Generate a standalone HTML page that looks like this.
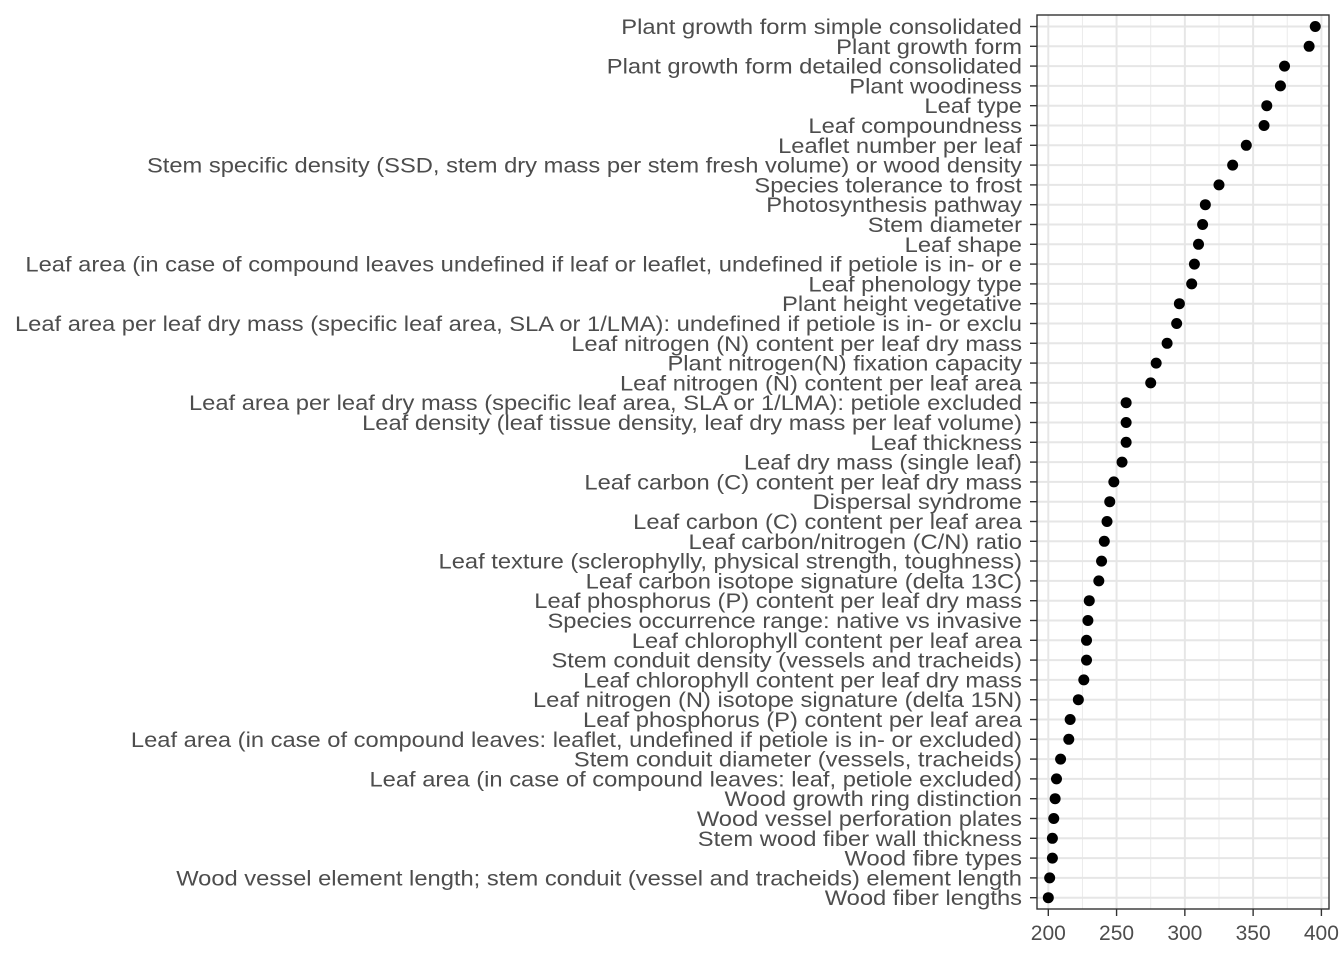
<!DOCTYPE html>
<html><head><meta charset="utf-8"><style>
body{margin:0;background:#fff;}
svg{display:block;font-family:"Liberation Sans",sans-serif;}
</style></head><body>
<svg id="chart" width="1344" height="960"></svg>
<script>
const categories=["Plant growth form simple consolidated","Plant growth form","Plant growth form detailed consolidated","Plant woodiness","Leaf type","Leaf compoundness","Leaflet number per leaf","Stem specific density (SSD, stem dry mass per stem fresh volume) or wood density","Species tolerance to frost","Photosynthesis pathway","Stem diameter","Leaf shape","Leaf area (in case of compound leaves undefined if leaf or leaflet, undefined if petiole is in- or e","Leaf phenology type","Plant height vegetative","Leaf area per leaf dry mass (specific leaf area, SLA or 1/LMA): undefined if petiole is in- or exclu","Leaf nitrogen (N) content per leaf dry mass","Plant nitrogen(N) fixation capacity","Leaf nitrogen (N) content per leaf area","Leaf area per leaf dry mass (specific leaf area, SLA or 1/LMA): petiole excluded","Leaf density (leaf tissue density, leaf dry mass per leaf volume)","Leaf thickness","Leaf dry mass (single leaf)","Leaf carbon (C) content per leaf dry mass","Dispersal syndrome","Leaf carbon (C) content per leaf area","Leaf carbon/nitrogen (C/N) ratio","Leaf texture (sclerophylly, physical strength, toughness)","Leaf carbon isotope signature (delta 13C)","Leaf phosphorus (P) content per leaf dry mass","Species occurrence range: native vs invasive","Leaf chlorophyll content per leaf area","Stem conduit density (vessels and tracheids)","Leaf chlorophyll content per leaf dry mass","Leaf nitrogen (N) isotope signature (delta 15N)","Leaf phosphorus (P) content per leaf area","Leaf area (in case of compound leaves: leaflet, undefined if petiole is in- or excluded)","Stem conduit diameter (vessels, tracheids)","Leaf area (in case of compound leaves: leaf, petiole excluded)","Wood growth ring distinction","Wood vessel perforation plates","Stem wood fiber wall thickness","Wood fibre types","Wood vessel element length; stem conduit (vessel and tracheids) element length","Wood fiber lengths"];
const values=[395.5,391,373,370,360,358,345,335,325,315,313,310,307,305,296,294,287,279,275,257,257,257,254,248,245,243,241,239,237,230,229,228,228,226,222,216,215,209,206,205,204,203,203,201,200];
const xTicks=[200,250,300,350,400];
const NS="http://www.w3.org/2000/svg";
const svg=document.getElementById('chart');
const L=1037,R=1329,T=15,B=909;
const X=v=>1048.3+(v-200)*1.3655;
const Y=i=>26.5+i*19.8;
function mk(t,a,p){const e=document.createElementNS(NS,t);for(const k in a)e.setAttribute(k,a[k]);(p||svg).appendChild(e);return e;}
const g=mk('g',{});


mk('rect',{x:L,y:T,width:R-L,height:B-T,fill:'#fff'},g);
for(let i=0;i<xTicks.length-1;i++){const m=(xTicks[i]+xTicks[i+1])/2;const l=mk('line',{x1:X(m),x2:X(m),y1:T,y2:B,stroke:'#ebebeb','stroke-width':1},g);

}
xTicks.forEach(t=>{const l=mk('line',{x1:X(t),x2:X(t),y1:T,y2:B,stroke:'#e6e6e6','stroke-width':2},g);

});
categories.forEach((c,i)=>{mk('line',{x1:L,x2:R,y1:Y(i),y2:Y(i),stroke:'#e6e6e6','stroke-width':2},g);});
const lab=mk('g',{transform:'translate(1022,0) scale(1.13,1) translate(-1022,0)'});


categories.forEach((c,i)=>{
const d=mk('circle',{cx:X(values[i]),cy:Y(i),r:5.5,fill:'#000'});


mk('line',{x1:L-7,x2:L,y1:Y(i),y2:Y(i),stroke:'#333','stroke-width':1.4});
const t=mk('text',{x:1022,y:Y(i)+7.5,'text-anchor':'end','font-size':21,fill:'#4d4d4d'},lab);
t.textContent=c;


});
const br=mk('rect',{x:L,y:T,width:R-L,height:B-T,fill:'none',stroke:'#333','stroke-width':1.4});


xTicks.forEach(t=>{mk('line',{x1:X(t),x2:X(t),y1:B,y2:B+7,stroke:'#333','stroke-width':1.4});
const tx=mk('text',{x:X(t),y:940,'text-anchor':'middle','font-size':21,fill:'#4d4d4d'});
tx.textContent=t;

});
</script>
</body></html>
